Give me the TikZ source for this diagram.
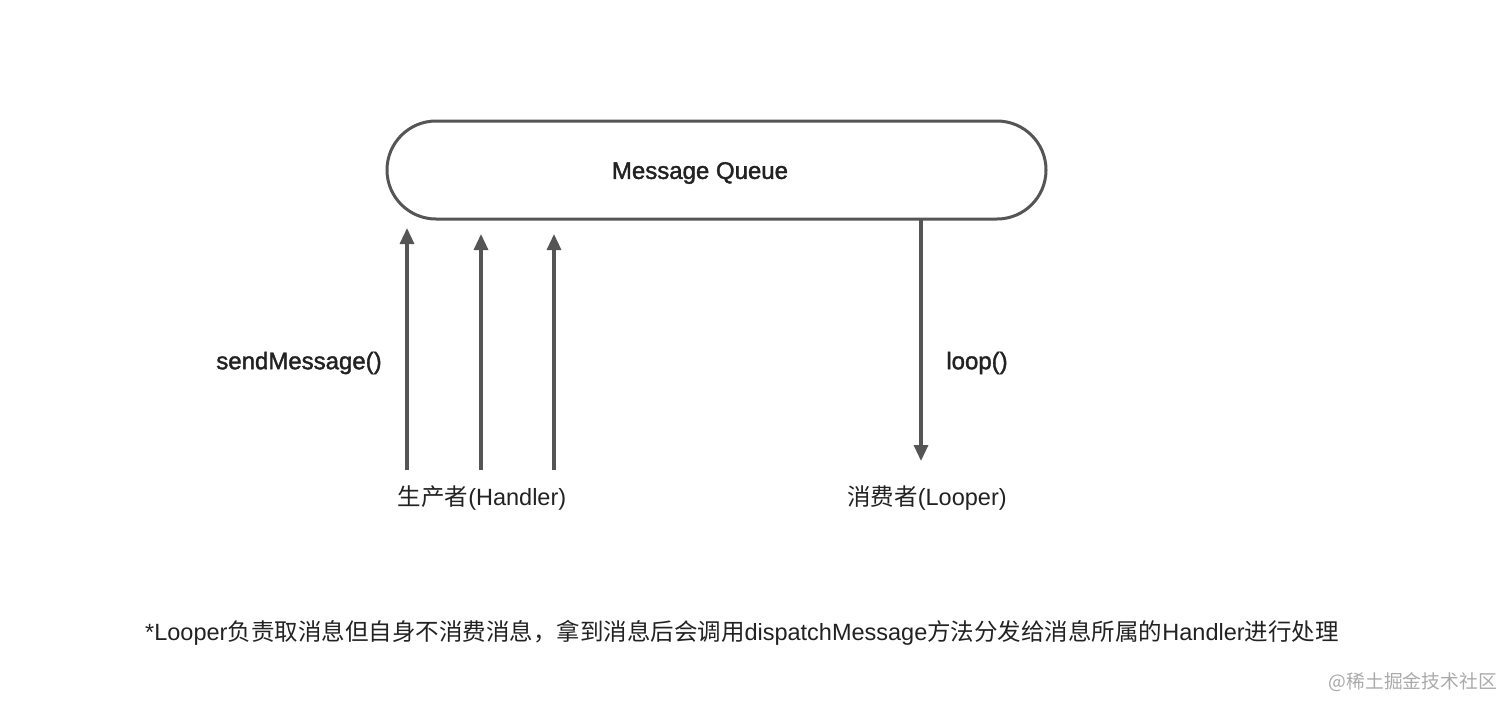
\documentclass[tikz,border=0pt]{standalone}
\usepackage{fontspec}
\setmainfont{Liberation Sans}
\newfontfamily\cjk{Noto Sans CJK SC}
\newfontfamily\medfont[FakeBold=1.6]{Liberation Sans}
\usetikzlibrary{arrows.meta}
\definecolor{lineg}{HTML}{555555}
\definecolor{textg}{HTML}{222222}
\definecolor{markg}{HTML}{AAAAAA}
\begin{document}
\begin{tikzpicture}[x=1pt,y=-1pt,
  queue/.style={draw=lineg,line width=3pt,rounded corners=49pt,minimum width=659pt,minimum height=98pt,inner sep=0pt},
  flow/.style={draw=lineg,line width=3.2pt,-{Triangle[width=14pt,length=16pt]}},
  lbl/.style={text=textg,font=\fontsize{23.5}{28}\selectfont,inner sep=0pt},
  mlbl/.style={text=textg,font=\medfont\fontsize{24}{28}\selectfont,inner sep=0pt}]
\useasboundingbox (0,0) rectangle (1512,712);
\fill[white] (0,0) rectangle (1512,712);
\node[queue] (mq) at (716.5,170) {};
\node[mlbl] (mqt) at (700,173) {Message Queue};
% producer arrows
\coordinate (s1) at (407,470); \coordinate (e1) at (407,228);
\coordinate (s2) at (481,470); \coordinate (e2) at (481,234);
\coordinate (s3) at (554,470); \coordinate (e3) at (554,234);
\draw[flow] (s1) -- (e1);
\draw[flow] (s2) -- (e2);
\draw[flow] (s3) -- (e3);
% consumer arrow
\coordinate (c0) at (921,219); \coordinate (c1) at (921,461);
\draw[flow] (c0) -- (c1);
\node[mlbl] (send) at (299,363) {sendMessage()};
\node[mlbl] (loop) at (977,363) {loop()};
\node[lbl] (prod) at (482,498) {{\cjk 生产者}(Handler)};
\node[lbl] (cons) at (927,498) {{\cjk 消费者}(Looper)};
\node[lbl,anchor=west] (note) at (145,633) {*Looper{\cjk 负责取消息但自身不消费消息，拿到消息后会调用}dispatchMessage{\cjk 方法分发给消息所属的}Handler{\cjk 进行处理}};
\node[text=markg,font=\cjk\fontsize{18.8}{22}\selectfont,inner sep=0pt,anchor=east] (wm) at (1497,682) {@稀土掘金技术社区};
\end{tikzpicture}
\end{document}
